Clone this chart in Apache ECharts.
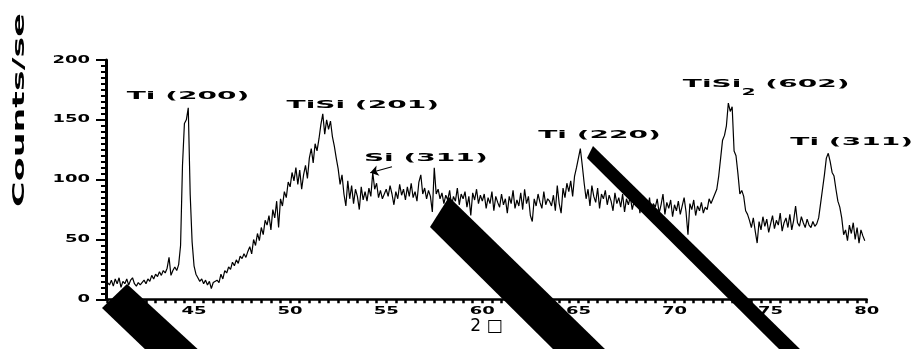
<!DOCTYPE html>
<html>
<head>
<meta charset="utf-8">
<script src="https://cdn.jsdelivr.net/npm/echarts@6/dist/echarts.min.js"></script>
<style>
  html, body { margin: 0; padding: 0; background: #fff; }
  #chart { width: 912px; height: 349px; }
</style>
</head>
<body>
<div id="chart"></div>
<script>
// XRD scan, 2θ sampled every 0.1° starting at 40.5°
const scanStart = 40.5;
const scanStep = 0.1;

// intensity (counts/sec), one array per 5° block
const counts40 = [14,12,16,11,17,13,18,10,15,13, 17,12,16,18,13,11,14,12,13,16,
  13,17,15,20,17,21,19,23,20,24, 22,26,35,20,24,27,24,29,45,112, 147,150,160,88,48];
const counts45 = [28,21,18,15,17,13,16,12,15,9, 14,13,16,14,21,17,24,22,27,25,
  31,28,33,30,36,34,38,35,40,44, 38,50,45,55,49,60,54,66,62,70, 58,75,68,82,60,84,78,90,85,98];
const counts50 = [94,106,99,110,96,108,92,104,112,101, 118,126,114,130,124,134,146,155,138,150,
  142,149,136,128,118,109,96,104,88,78, 99,84,95,80,92,86,75,94,83,90, 82,93,86,106,92,97,85,91,84,88];
const counts55 = [92,86,95,88,79,90,84,96,87,92, 83,94,86,97,85,90,82,98,104,88,
  93,84,91,86,73,110,88,92,84,89, 80,87,83,91,78,86,82,93,79,88, 84,90,77,86,70,89,83,92,80,87];
const counts60 = [82,88,76,85,80,90,74,86,81,77, 88,79,84,72,86,80,91,76,83,78,
  89,75,92,80,86,70,65,84,78,88, 81,76,90,79,84,82,78,87,74,95, 80,72,93,85,97,90,99,86,103,110];
const counts65 = [118,126,112,97,84,92,78,95,86,81, 93,76,88,84,91,79,87,82,74,89,
  80,85,77,88,73,84,79,86,75,82, 78,87,72,83,76,81,74,85,70,80, 77,84,72,79,88,71,81,76,83,69];
const counts70 = [79,74,82,71,78,85,73,54,80,75, 83,70,78,74,81,72,77,75,84,80,
  84,88,92,103,118,133,137,145,164,157, 161,124,120,105,88,91,86,74,71,66, 60,68,57,47,65,58,69,61,67,56];
const counts75 = [63,70,59,66,62,72,57,64,68,60, 71,58,66,78,64,61,69,64,60,67,
  62,60,65,61,63,68,80,92,104,118, 122,115,106,103,92,82,77,68,54,58, 49,62,55,64,50,60,47,58,53,49];

const xTickLabels = [45, 50, 55, 60, 65, 70, 75, 80];
const yTickLabels = [0, 50, 100, 150, 200];

const peakNames = ['Ti (200)', 'TiSi (201)', 'Si (311)', 'Ti (220)', 'TiSi₂ (602)', 'Ti (311)'];
const peakTheta = [44.69, 53.78, 57.06, 66.1, 74.77, 79.22];
const peakLevel = [170, 162, 118, 137, 180, 131];

const xTitle = '2 \u25A1';
const yTitle = 'Counts/se';

const intensity = [].concat(counts40, counts45, counts50, counts55, counts60, counts65, counts70, counts75);
const scan = intensity.map((v, i) => [+(scanStart + i * scanStep).toFixed(2), v]);

const xMin = 40.42, xMax = 80;
const xTickValues = [];
for (let t = 40.5; t <= 80.001; t += 0.5) xTickValues.push(+t.toFixed(1));

const FONT = '"DejaVu Sans"';

const chart = echarts.init(document.getElementById('chart'), null, { renderer: 'canvas' });

chart.setOption({
  animation: false,
  backgroundColor: '#fff',
  grid: { left: 106, right: 45.3, top: 60, bottom: 49.7 },
  xAxis: {
    type: 'value', min: xMin, max: xMax,
    name: xTitle, nameLocation: 'middle', nameGap: 19,
    nameTextStyle: { color: '#000', fontFamily: 'DejaVu Sans', fontSize: 17 },
    axisLine: { show: true, onZero: false, lineStyle: { color: '#000', width: 2.5 } },
    axisTick: { show: true, length: 4, customValues: xTickValues, lineStyle: { color: '#000', width: 2.5 } },
    axisLabel: { show: false },
    splitLine: { show: false }
  },
  yAxis: {
    type: 'value', min: 0, max: 200, interval: 50,
    axisLine: { show: true, lineStyle: { color: '#000', width: 3 } },
    axisTick: { show: true, length: 10, lineStyle: { color: '#000', width: 2 } },
    minorTick: { show: true, splitNumber: 10, length: 5, lineStyle: { color: '#000', width: 2 } },
    axisLabel: { show: false },
    splitLine: { show: false }
  },
  series: [{
    type: 'line',
    data: scan,
    showSymbol: false,
    lineStyle: { color: '#000', width: 1.2 },
    markLine: {
      silent: true,
      symbol: ['none', 'arrow'],
      symbolSize: 8,
      label: { show: false },
      lineStyle: { color: '#000', width: 1.2, type: 'solid' },
      data: [[{ coord: [55.3, 110.8] }, { coord: [54.17, 105.8] }]]
    }
  }]
});

const toPx = (x, y) => chart.convertToPixel({ xAxisIndex: 0, yAxisIndex: 0 }, [x, y]);

// horizontally stretched text
function wideText(text, x, y, size, sx, align, vAlign, rot) {
  return {
    type: 'text', x: x, y: y, scaleX: sx, rotation: rot || 0, silent: true, z: 50,
    style: {
      text: text, fill: '#000', font: 'bold ' + size + 'px ' + FONT,
      align: align, textAlign: align, verticalAlign: vAlign, textVerticalAlign: vAlign
    }
  };
}

function richLabel(text) {
  const parts = text.split('₂');
  if (parts.length === 1) return '{m|' + text + '}';
  return '{m|' + parts[0] + '}{s|2}{m|' + parts[1] + '}';
}

const elements = [];

xTickLabels.forEach(v => {
  const p = toPx(v, 0);
  elements.push(wideText(String(v), p[0], p[1] + 12, 10, 1.8, 'center', 'middle'));
});
yTickLabels.forEach(v => {
  const p = toPx(xMin, v);
  elements.push(wideText(String(v), p[0] - 16, p[1], 10, 1.8, 'right', 'middle'));
});

peakNames.forEach((name, i) => {
  const p = toPx(peakTheta[i], peakLevel[i]);
  elements.push({
    type: 'text', x: p[0], y: p[1] - 5.5, scaleX: 2.55, silent: true, z: 50,
    style: {
      text: richLabel(name), fill: '#000', font: 'bold 11px ' + FONT,
      align: 'center', textAlign: 'center', verticalAlign: 'top', textVerticalAlign: 'top',
      rich: {
        m: { font: 'bold 11px ' + FONT, fill: '#000', verticalAlign: 'top' },
        s: { font: 'bold 8px ' + FONT, fill: '#000', verticalAlign: 'top', padding: [10, 0, 0, 0] }
      }
    }
  });
});

elements.push(wideText(yTitle, 19.5, 110, 16, 2.18, 'center', 'middle', Math.PI / 2));

// heavy diagonal strokes across the plot
const strokes = [
  [[102, 308], [127, 284], [202, 353], [149, 353]],
  [[430, 227], [449, 197], [608, 352], [556, 352]],
  [[587, 158], [593, 146], [803, 352], [782, 352]]
];
strokes.forEach(pts => {
  elements.push({ type: 'polygon', z: 100, silent: true, shape: { points: pts }, style: { fill: '#000' } });
});

chart.setOption({ graphic: { elements: elements } });
</script>
</body>
</html>
